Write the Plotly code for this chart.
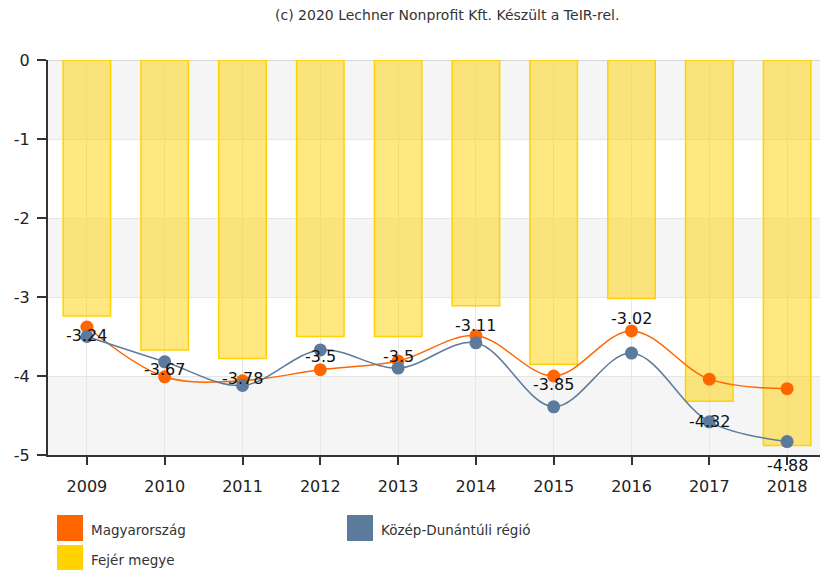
import plotly.graph_objects as go

years = ["2009", "2010", "2011", "2012", "2013", "2014", "2015", "2016", "2017", "2018"]
fejer = [-3.24, -3.67, -3.78, -3.5, -3.5, -3.11, -3.85, -3.02, -4.32, -4.88]
magyarorszag = [-3.38, -4.01, -4.06, -3.92, -3.81, -3.49, -4.00, -3.43, -4.04, -4.16]
kozep_dunantul = [-3.50, -3.82, -4.12, -3.67, -3.90, -3.58, -4.39, -3.71, -4.58, -4.83]
y_tickvals = [0, -1, -2, -3, -4, -5]
y_ticktext = ["0", "-1", "-2", "-3", "-4", "-5"]

legend_names = ["Magyarország", "Közép-Dunántúli régió", "Fejér megye"]
legend_colors = ["#FF6600", "#5C7A9B", "#FFD200"]

FONT = "Verdana, DejaVu Sans, sans-serif"
OFF = 8  # page body margin
W, H = 828 - OFF, 570 - OFF
L, R, T, B = 48 - OFF, 2, 60 - OFF, 115
PW, PH = W - L - R, H - T - B


def px(x):
    return (x - OFF - L) / PW


def py(y):
    return (H - B - (y - OFF)) / PH


fig = go.Figure()

fig.add_trace(go.Bar(
    x=years, y=fejer, name=legend_names[2], width=0.61,
    marker=dict(color="rgba(255,210,0,0.5)", line=dict(color="#FFD200", width=1.5)),
    showlegend=False, hoverinfo="x+y",
))
fig.add_trace(go.Scatter(
    x=years, y=magyarorszag, name=legend_names[0], mode="lines+markers",
    line=dict(color="#FF6600", width=1.5, shape="spline", smoothing=1),
    marker=dict(color="#FF6600", size=13), showlegend=False,
))
fig.add_trace(go.Scatter(
    x=years, y=kozep_dunantul, name=legend_names[1], mode="lines+markers",
    line=dict(color="#5C7A9B", width=1.5, shape="spline", smoothing=1),
    marker=dict(color="#5C7A9B", size=13), showlegend=False,
))

shapes = []
for lo in [-1, -3, -5]:
    shapes.append(dict(type="rect", xref="paper", yref="y", x0=0, x1=1, y0=lo, y1=lo + 1,
                       fillcolor="#F5F5F5", line=dict(width=0), layer="below"))
shapes.append(dict(type="line", xref="paper", yref="y", x0=0, x1=1, y0=0, y1=0,
                   line=dict(color="#D6D6D6", width=2), layer="below"))

annotations = []
for i, v in enumerate(fejer):
    annotations.append(dict(x=i, y=v, xref="x", yref="y", text=str(v), showarrow=False,
                            yshift=-20, font=dict(family=FONT, size=16, color="#111")))

leg_pos = [(57, 515), (347, 515), (57, 545)]
for (lx, ly), name, col in zip(leg_pos, legend_names, legend_colors):
    shapes.append(dict(type="rect", xref="paper", yref="paper",
                       x0=px(lx), x1=px(lx + 26), y0=py(ly + 26), y1=py(ly),
                       fillcolor=col, line=dict(width=0)))
    annotations.append(dict(xref="paper", yref="paper", x=px(lx + 32), y=py(ly + 15),
                            xanchor="left", yanchor="middle", text=name, showarrow=False,
                            font=dict(family=FONT, size=13.5, color="#333")))

annotations.append(dict(xref="paper", yref="paper", x=px(447), y=py(15), xanchor="center",
                        yanchor="middle", showarrow=False,
                        text="(c) 2020 Lechner Nonprofit Kft. Készült a TeIR-rel.",
                        font=dict(family=FONT, size=14, color="#333")))

fig.update_layout(
    width=W, height=H,
    margin=dict(l=L, r=R, t=T, b=B),
    paper_bgcolor="white", plot_bgcolor="white",
    font=dict(family=FONT, color="#222"),
    shapes=shapes, annotations=annotations,
    showlegend=False,
)
fig.update_xaxes(
    type="category", range=[-0.5, 9.5], showgrid=True, gridcolor="#E6E6E6", gridwidth=1,
    showline=True, linecolor="#333", linewidth=2, ticks="outside", ticklen=8,
    tickcolor="#333", tickwidth=1.5, tickfont=dict(family=FONT, size=16, color="#222"),
    ticklabelstandoff=8,
)
fig.update_yaxes(
    range=[-5, 0], tickvals=y_tickvals, ticktext=y_ticktext, showgrid=True,
    gridcolor="#E6E6E6", gridwidth=1, zeroline=False,
    showline=True, linecolor="#333", linewidth=2, ticks="outside", ticklen=9,
    tickcolor="#333", tickwidth=1.5, tickfont=dict(family=FONT, size=16, color="#222"),
    ticklabelstandoff=4,
)

fig.write_html("out.html")
